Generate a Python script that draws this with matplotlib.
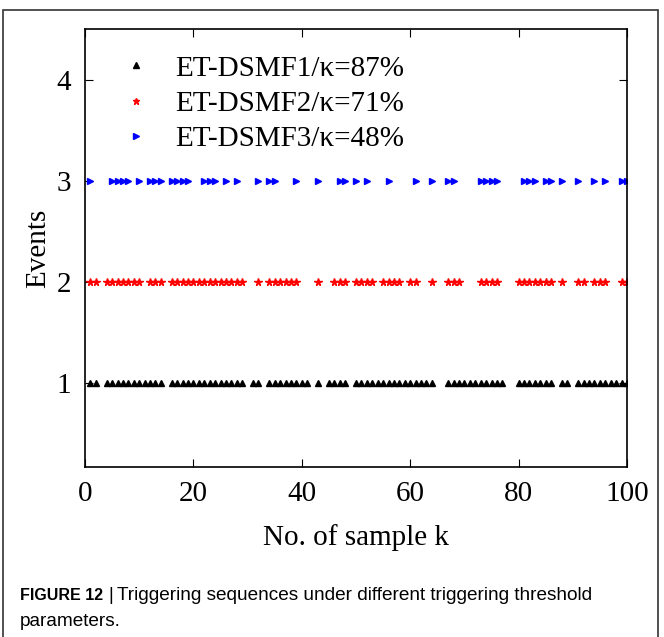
import matplotlib
matplotlib.use("Agg")
from matplotlib import pyplot as plt
from matplotlib.patches import Rectangle

# samples k at which each scheme triggers
k1 = [1, 2] + list(range(4, 15)) + list(range(16, 30)) + [31, 32] + list(range(34, 42)) + [43] \
    + list(range(45, 49)) + list(range(50, 65)) + list(range(67, 78)) + list(range(80, 87)) \
    + [88, 89] + list(range(91, 101))
k2 = [1, 2] + list(range(4, 11)) + [12, 13, 14] + list(range(16, 30)) + [32] + list(range(34, 40)) \
    + [43, 46, 47, 48, 50, 51, 52, 53, 55, 56, 57, 58, 60, 61, 64, 67, 68, 69, 73, 74, 75, 76] \
    + list(range(80, 87)) + [88, 91, 92, 94, 95, 96, 99, 100]
k3 = [1, 5, 6, 7, 8, 10, 12, 13, 14, 16, 17, 18, 19, 22, 23, 24, 26, 28, 32, 34, 35, 39, 43,
      47, 48, 50, 52, 56, 61, 64, 67, 68, 73, 74, 75, 76, 81, 82, 83, 85, 86, 88, 91, 94, 96,
      99, 100]
labels = ["ET-DSMF1/\u03ba=87%", "ET-DSMF2/\u03ba=71%", "ET-DSMF3/\u03ba=48%"]

plt.rcParams['font.family'] = ['Liberation Serif', 'DejaVu Serif']

fig = plt.figure(figsize=(6.64, 6.37), dpi=100)
ax = fig.add_axes([85 / 664, 1 - 467 / 637, 542 / 664, 438 / 637])

ax.plot(k1, [1] * len(k1), '^', color='black', ms=4.5, ls='none', label=labels[0])
ax.plot(k2, [2] * len(k2), '*', color='red', ms=5.5, ls='none', label=labels[1])
ax.plot(k3, [3] * len(k3), '>', color='blue', ms=4.5, ls='none', label=labels[2])

ax.set_xlim(0, 100)
ax.set_ylim(0.17, 4.5)
ax.set_xticks([0, 20, 40, 60, 80, 100])
ax.set_yticks([1, 2, 3, 4])
ax.tick_params(direction='in', top=True, right=True, labelsize=21, length=6, pad=10)
ax.set_xlabel("No. of sample k", fontsize=21, labelpad=12)
ax.set_ylabel("Events", fontsize=21, labelpad=4)
for s in ax.spines.values():
    s.set_linewidth(1.2)

ax.legend(loc='upper left', frameon=False, fontsize=21, markerscale=0.9,
          handlelength=1.0, handletextpad=0.85, labelspacing=0.3,
          bbox_to_anchor=(0.018, 1.0))

fig.add_artist(Rectangle((3 / 664, -0.01), 655 / 664, 1 - 10 / 637 + 0.01,
                         transform=fig.transFigure, fill=False, lw=1.2, ec='#333333'))

cap_font = ['Liberation Sans', 'DejaVu Sans']
fig.text(20 / 664, 1 - 596 / 637, "FIGURE 12", fontsize=11.5, fontweight='bold',
         family=cap_font, va='center')
fig.text(108 / 664, 1 - 596 / 637, "|", fontsize=13.5, family=cap_font, va='center')
fig.text(117 / 664, 1 - 596 / 637, "Triggering sequences under different triggering threshold",
         fontsize=13.7, family=cap_font, va='center')
fig.text(20 / 664, 1 - 621 / 637, "parameters.", fontsize=13.7, family=cap_font, va='center')

fig.savefig("out.png", dpi=100)
